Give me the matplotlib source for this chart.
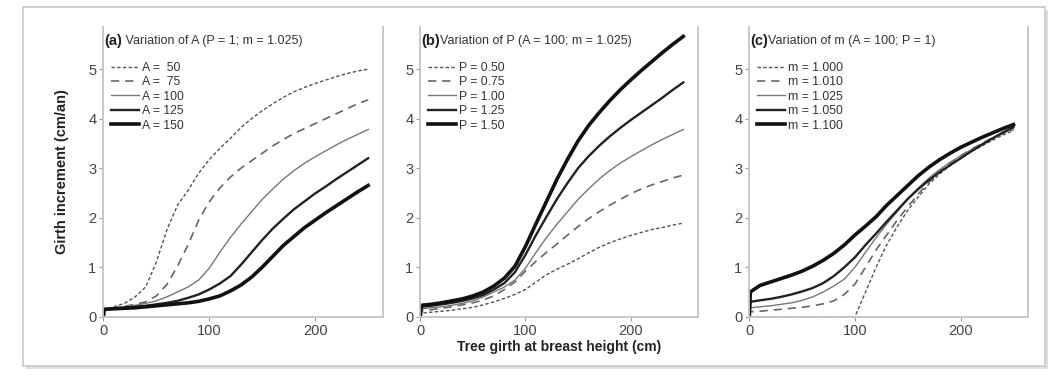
import matplotlib
matplotlib.use('Agg')
import matplotlib.pyplot as plt
from matplotlib.patches import Rectangle

plt.rcParams['font.family'] = ['Liberation Sans', 'DejaVu Sans']

# --- data -------------------------------------------------------------
# tree girth at breast height (cm); the first point (0 at x = 0) gives the vertical start
girth = [0, 1, 10, 20, 30, 40, 50, 60, 70, 80, 90, 100, 110, 120, 130,
         140, 150, 160, 170, 180, 190, 200, 210, 220, 230, 240, 250]

# (a) variation of A (P = 1; m = 1.025)
a_labels = ['A =  50', 'A =  75', 'A = 100', 'A = 125', 'A = 150']
a_50 = [0, 0.15, 0.2, 0.27, 0.4, 0.6, 1.1, 1.75, 2.25, 2.55, 2.9, 3.17, 3.4, 3.6,
        3.82, 4.0, 4.16, 4.3, 4.43, 4.54, 4.63, 4.71, 4.78, 4.85, 4.91, 4.96, 5.0]
a_75 = [0, 0.15, 0.18, 0.21, 0.25, 0.3, 0.42, 0.65, 1.02, 1.45, 1.95, 2.32, 2.6, 2.82,
        3.0, 3.15, 3.3, 3.45, 3.58, 3.7, 3.8, 3.9, 4.0, 4.1, 4.2, 4.3, 4.38]
a_100 = [0, 0.15, 0.18, 0.2, 0.23, 0.27, 0.32, 0.4, 0.5, 0.6, 0.74, 0.98, 1.3, 1.6,
         1.87, 2.12, 2.37, 2.58, 2.78, 2.95, 3.1, 3.23, 3.35, 3.47, 3.58, 3.68, 3.78]
a_125 = [0, 0.15, 0.16, 0.18, 0.2, 0.22, 0.25, 0.28, 0.32, 0.38, 0.45, 0.55, 0.67, 0.82,
         1.05, 1.3, 1.55, 1.78, 1.98, 2.17, 2.33, 2.49, 2.63, 2.78, 2.92, 3.06, 3.2]
a_150 = [0, 0.15, 0.16, 0.17, 0.18, 0.2, 0.22, 0.24, 0.26, 0.28, 0.31, 0.36, 0.42, 0.52,
         0.64, 0.8, 1.0, 1.22, 1.44, 1.62, 1.8, 1.95, 2.1, 2.24, 2.38, 2.52, 2.65]

# (b) variation of P (A = 100; m = 1.025)
b_labels = ['P = 0.50', 'P = 0.75', 'P = 1.00', 'P = 1.25', 'P = 1.50']
b_050 = [0, 0.07, 0.09, 0.11, 0.13, 0.16, 0.19, 0.24, 0.3, 0.37, 0.45, 0.55, 0.7, 0.85,
         0.96, 1.06, 1.17, 1.29, 1.4, 1.49, 1.57, 1.64, 1.7, 1.76, 1.8, 1.85, 1.89]
b_075 = [0, 0.12, 0.14, 0.17, 0.2, 0.24, 0.28, 0.34, 0.42, 0.55, 0.7, 0.92, 1.12, 1.3,
         1.47, 1.65, 1.82, 1.98, 2.12, 2.25, 2.37, 2.48, 2.58, 2.66, 2.73, 2.8, 2.86]
b_100 = [0, 0.16, 0.18, 0.2, 0.23, 0.27, 0.32, 0.4, 0.5, 0.6, 0.74, 0.98, 1.3, 1.6,
         1.87, 2.12, 2.37, 2.58, 2.78, 2.95, 3.1, 3.23, 3.35, 3.47, 3.58, 3.68, 3.78]
b_125 = [0, 0.2, 0.22, 0.25, 0.28, 0.32, 0.37, 0.44, 0.55, 0.68, 0.9, 1.25, 1.65, 2.02,
         2.38, 2.7, 3.0, 3.24, 3.45, 3.64, 3.81, 3.97, 4.12, 4.27, 4.42, 4.58, 4.73]
b_150 = [0, 0.23, 0.25, 0.28, 0.32, 0.36, 0.42, 0.5, 0.62, 0.78, 1.02, 1.42, 1.88, 2.33,
         2.78, 3.18, 3.55, 3.86, 4.12, 4.36, 4.58, 4.78, 4.97, 5.15, 5.33, 5.5, 5.66]

# (c) variation of m (A = 100; P = 1)
c_labels = ['m = 1.000', 'm = 1.010', 'm = 1.025', 'm = 1.050', 'm = 1.100']
c_1000 = [0, 0, 0, 0, 0, 0, 0, 0, 0, 0, 0, 0, 0.5, 1.0, 1.45, 1.82, 2.15, 2.42, 2.68,
          2.88, 3.05, 3.2, 3.33, 3.45, 3.56, 3.67, 3.76]
c_1010 = [0, 0.1, 0.11, 0.13, 0.15, 0.17, 0.19, 0.22, 0.26, 0.32, 0.45, 0.66, 1.0, 1.35,
          1.65, 1.95, 2.22, 2.48, 2.72, 2.92, 3.1, 3.25, 3.38, 3.5, 3.61, 3.7, 3.78]
c_1025 = [0, 0.18, 0.2, 0.22, 0.25, 0.28, 0.33, 0.4, 0.5, 0.62, 0.76, 1.0, 1.3, 1.6,
          1.87, 2.12, 2.38, 2.6, 2.8, 2.97, 3.12, 3.25, 3.37, 3.49, 3.6, 3.7, 3.8]
c_1050 = [0, 0.3, 0.33, 0.36, 0.4, 0.45, 0.51, 0.58, 0.68, 0.82, 1.0, 1.2, 1.45, 1.68,
          1.92, 2.15, 2.38, 2.58, 2.76, 2.92, 3.06, 3.2, 3.34, 3.47, 3.6, 3.72, 3.83]
c_1100 = [0, 0.5, 0.63, 0.7, 0.77, 0.84, 0.92, 1.02, 1.14, 1.28, 1.45, 1.65, 1.83, 2.02,
          2.25, 2.45, 2.65, 2.85, 3.02, 3.17, 3.3, 3.42, 3.52, 3.62, 3.71, 3.8, 3.88]

panels = [
    ('(a)', ' Variation of A (P = 1; m = 1.025)', a_labels, [a_50, a_75, a_100, a_125, a_150]),
    ('(b)', 'Variation of P (A = 100; m = 1.025)', b_labels, [b_050, b_075, b_100, b_125, b_150]),
    ('(c)', 'Variation of m (A = 100; P = 1)', c_labels, [c_1000, c_1010, c_1025, c_1050, c_1100]),
]

# line styles: dotted, dashed, thin, medium, thick
styles = [
    dict(color='#555555', lw=1.0, ls=(0, (2.5, 1.6))),
    dict(color='#666666', lw=1.2, ls=(0, (5, 3.5))),
    dict(color='#777777', lw=1.0, ls='-'),
    dict(color='#222222', lw=1.7, ls='-'),
    dict(color='#111111', lw=2.6, ls='-'),
]

# --- figure -----------------------------------------------------------
fig = plt.figure(figsize=(10.51, 3.75), dpi=100)

# outer frame with a soft shadow
fig.patches.append(Rectangle((26 / 1051, 1 - 369 / 375), 1022 / 1051, 359 / 375,
                             transform=fig.transFigure, facecolor='#dedede',
                             edgecolor='none', zorder=0))
fig.patches.append(Rectangle((23 / 1051, 1 - 366 / 375), 1022 / 1051, 359 / 375,
                             transform=fig.transFigure, facecolor='white',
                             edgecolor='#c8c8c8', lw=1.2, zorder=1))

lefts = [103.3, 420.3, 749.3]
widths = [279.7, 277.7, 279.0]

for (tag, title, labels, series), left, width in zip(panels, lefts, widths):
    ax = fig.add_axes([left / 1051, 1 - 316.7 / 375, width / 1051, 289.7 / 375])
    ax.set_zorder(2)
    ax.patch.set_alpha(0)
    for vals, st in zip(series, styles):
        ax.plot(girth, vals, color=st['color'], lw=st['lw'], linestyle=st['ls'],
                solid_joinstyle='round')
    ax.set_xlim(0, 264)
    ax.set_ylim(0, 5.85)
    ax.set_xticks([0, 100, 200])
    ax.set_yticks([0, 1, 2, 3, 4, 5])
    ax.tick_params(colors='#999999', labelcolor='#444444', labelsize=10.5,
                   length=3, width=0.8, pad=2)
    for side in ['left', 'bottom', 'right']:
        ax.spines[side].set_color('#c4c4c4')
        ax.spines[side].set_linewidth(1.3)
    ax.spines['top'].set_visible(False)

    t1 = ax.text(0.003, 0.975, tag, transform=ax.transAxes, fontsize=10.5,
                 fontweight='bold', color='#222222', va='top', ha='left')
    ax.annotate(title, xy=(1, 0.12), xycoords=t1, fontsize=9, color='#333333',
                va='bottom', ha='left')

    leg = ax.legend(labels, loc='upper left', bbox_to_anchor=(0.0, 0.905),
                    frameon=False, fontsize=8.8, handlelength=2.3,
                    handletextpad=0.3, labelspacing=0.2, borderaxespad=0.2)
    for txt in leg.get_texts():
        txt.set_color('#333333')

fig.text(62 / 1051, 1 - 172 / 375, 'Girth increment (cm/an)', rotation=90,
         ha='center', va='center', fontsize=10.5, fontweight='bold', color='#222222')
fig.text(559 / 1051, 1 - 347 / 375, 'Tree girth at breast height (cm)',
         ha='center', va='center', fontsize=10, fontweight='bold', color='#222222')

plt.savefig('out.png', dpi=100)
